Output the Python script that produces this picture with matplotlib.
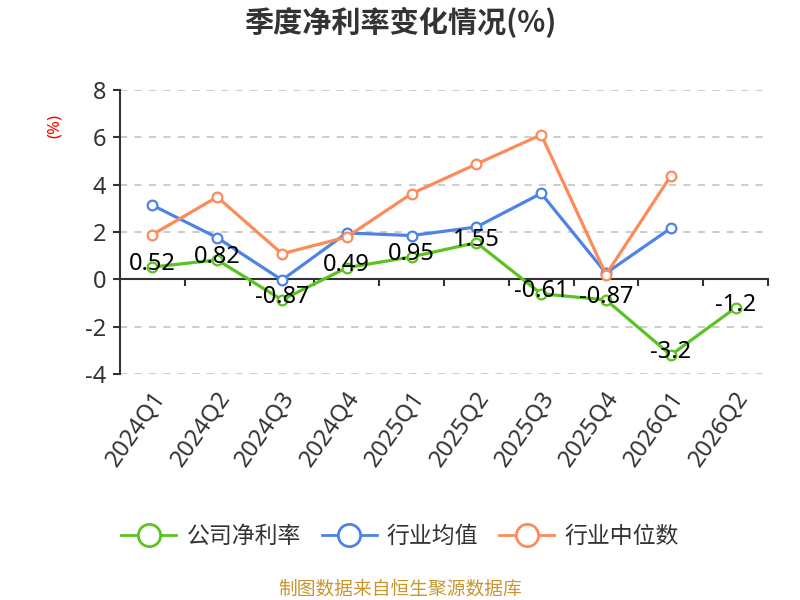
import matplotlib
matplotlib.use("Agg")
import matplotlib.pyplot as plt
from matplotlib.lines import Line2D
import numpy as np

plt.rcParams['font.family'] = ['Noto Sans', 'Noto Sans CJK SC', 'DejaVu Sans']

# quarters on the x axis
quarters = ["2024Q1", "2024Q2", "2024Q3", "2024Q4", "2025Q1",
            "2025Q2", "2025Q3", "2025Q4", "2026Q1", "2026Q2"]

# net margin series (%), None where there is no value
company = [0.52, 0.82, -0.87, 0.49, 0.95, 1.55, -0.61, -0.87, -3.2, -1.2]
industry_mean = [3.13, 1.76, -0.03, 1.96, 1.85, 2.21, 3.63, 0.26, 2.16, None]
industry_median = [1.89, 3.48, 1.08, 1.79, 3.62, 4.87, 6.11, 0.20, 4.37, None]

names = ["公司净利率", "行业均值", "行业中位数"]
colors = ["#5bc31f", "#4f82e6", "#fd8b59"]

fig = plt.figure(figsize=(8, 6), dpi=100)
ax = fig.add_axes([0.15, 0.3767, 0.81, 0.4733])

x = np.arange(len(quarters))


def to_arr(vals):
    return np.array([np.nan if v is None else v for v in vals], dtype=float)


series = [company, industry_mean, industry_median]
for i, (vals, c) in enumerate(zip(series, colors)):
    ax.plot(x, to_arr(vals), color=c, lw=2.3, marker="o", markersize=7,
            markerfacecolor="white", markeredgecolor=c, markeredgewidth=1.6,
            zorder=3 + i)

# data labels for the company series
for xi, v in zip(x, company):
    ax.annotate(f"{v:g}", (xi, v), xytext=(0, 2), textcoords="offset points",
                ha="center", va="center", fontsize=17, color="black",
                zorder=10)

ax.set_xlim(-0.5, len(quarters) - 0.5)
ax.set_ylim(-4, 8)
ax.set_yticks([-4, -2, 0, 2, 4, 6, 8])
ax.set_yticklabels(["-4", "-2", "0", "2", "4", "6", "8"])
ax.tick_params(axis="y", labelsize=17, colors="#333333", length=5, width=1.5,
               pad=5)

# grid lines except the zero line
for yv in [-4, -2, 2, 4, 6, 8]:
    ax.axhline(yv, color="#c8c8c8", lw=1.3, ls=(0, (4, 4)), zorder=1)

# x axis sits at zero with ticks between categories
ax.spines["bottom"].set_position(("data", 0))
ax.spines["bottom"].set_color("#333333")
ax.spines["bottom"].set_linewidth(1.5)
ax.spines["left"].set_color("#333333")
ax.spines["left"].set_linewidth(1.5)
ax.spines["top"].set_visible(False)
ax.spines["right"].set_visible(False)
ax.set_xticks(np.arange(len(quarters) + 1) - 0.5)
ax.set_xticklabels([])
ax.tick_params(axis="x", length=5, width=1.5, color="#333333")

# category labels below the plot
for xi, q in zip(x, quarters):
    ax.annotate(q, (xi, -4), xytext=(-1, -9), textcoords="offset points",
                ha="right", va="top", rotation=55, rotation_mode="anchor",
                fontsize=17, color="#333333", annotation_clip=False)

fig.text(0.5, 0.962, "季度净利率变化情况(%)", ha="center", va="center",
         fontsize=21, fontweight="bold", color="#333333",
         family=["Noto Sans CJK SC", "DejaVu Sans"])
fig.text(0.068, 0.79, "(%)", ha="center", va="center", rotation=90,
         fontsize=12, color="red")

handles = [Line2D([0], [0], color=c, lw=2, marker="o", markersize=16,
                  markerfacecolor="white", markeredgecolor=c,
                  markeredgewidth=2) for c in colors]
fig.legend(handles, names, loc="center", bbox_to_anchor=(0.5, 0.105),
           ncol=3, frameon=False, fontsize=16.5, handlelength=2.4,
           columnspacing=0.9, handletextpad=0.45, labelcolor="#333333")

fig.text(0.5, 0.018, "制图数据来自恒生聚源数据库", ha="center", va="center",
         fontsize=13.5, color="#c8962d")

fig.savefig("out.png", dpi=100)
